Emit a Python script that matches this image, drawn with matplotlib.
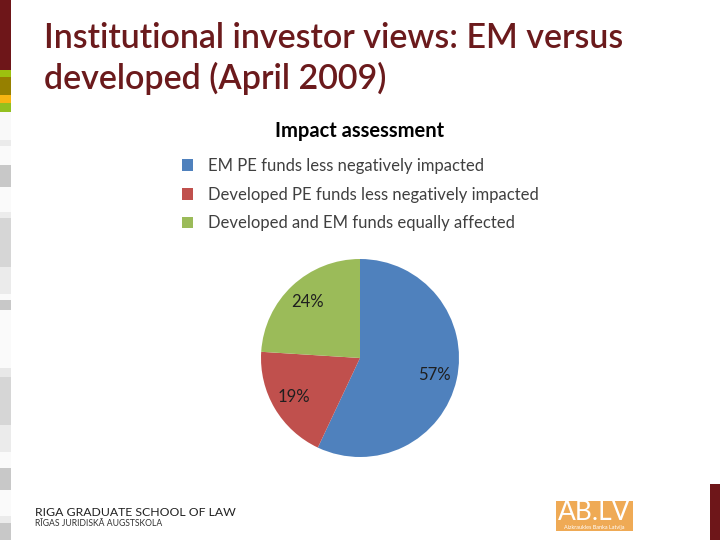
import matplotlib.pyplot as plt
from matplotlib.patches import Rectangle

# chart data
labels = ['EM PE funds less negatively impacted',
          'Developed PE funds less negatively impacted',
          'Developed and EM funds equally affected']
shares = [57, 19, 24]
colors = ['#4f81bd', '#c0504d', '#9bbb59']

slide_title = ['Institutional investor views: EM versus', 'developed (April 2009)']
chart_title = 'Impact assessment'

# decorative strip on the left edge: (top px, bottom px, colour)
strip = [(0, 70, '#6e1619'), (70, 77, '#9dc10f'), (77, 95, '#968000'),
         (95, 103, '#f7b512'), (103, 112, '#93c01f'), (112, 140, '#f9f9f9'),
         (140, 146, '#ebebeb'), (146, 165, '#fafafa'), (165, 187, '#c8c8c8'),
         (187, 212, '#fafafa'), (212, 218, '#ececec'), (218, 267, '#d6d6d6'),
         (267, 294, '#ebebeb'), (294, 300, '#fafafa'), (300, 310, '#c8c8c8'),
         (310, 368, '#fafafa'), (368, 377, '#e8e8e8'), (377, 425, '#d6d6d6'),
         (425, 452, '#ebebeb'), (452, 468, '#fafafa'), (468, 490, '#c8c8c8'),
         (490, 516, '#fafafa'), (516, 523, '#ebebeb'), (523, 540, '#c8c8c8')]

plt.rcParams['font.family'] = ['Lato', 'DejaVu Sans']

W, H = 720, 540
fig = plt.figure(figsize=(7.2, 5.4), dpi=100)
fig.patch.set_facecolor('white')

def px(x0, y0, x1, y1):
    return (x0 / W, 1 - y1 / H), (x1 - x0) / W, (y1 - y0) / H

for top, bot, c in strip:
    xy, w, h = px(0, top, 11, bot)
    fig.patches.append(Rectangle(xy, w, h, transform=fig.transFigure, color=c, lw=0))

xy, w, h = px(710, 484, 720, 540)
fig.patches.append(Rectangle(xy, w, h, transform=fig.transFigure, color='#6e1619', lw=0))

# slide title
for line, base in zip(slide_title, [48, 89]):
    fig.text(44 / W, 1 - base / H, line, ha='left', va='baseline', fontsize=24.5,
             fontweight='semibold', color='#6b1a1c')

# pie
ax = fig.add_axes([261 / W, 83 / H, 198 / W, 198 / H])
wedges, _, autotexts = ax.pie(shares, colors=colors, startangle=90, counterclock=False,
                              autopct='%d%%', pctdistance=0.77,
                              textprops={'fontsize': 12, 'color': '#1f1f1f'})
ax.set_xlim(-1, 1)
ax.set_ylim(-1, 1)
ax.set_aspect('equal')
ax.axis('off')

fig.text(360 / W, 1 - 131 / H, chart_title, ha='center', va='center',
         fontsize=14.5, fontweight='bold', color='black')

fig.legend(wedges, labels, loc='upper left', bbox_to_anchor=(182 / W, 1 - 158 / H),
           frameon=False, fontsize=12, handlelength=0.68, handleheight=0.68,
           handletextpad=0.85, labelspacing=0.76, borderaxespad=0, borderpad=0,
           labelcolor='#404040')

# footer
fig.text(35 / W, 1 - 512 / H, 'RIGA GRADUATE SCHOOL OF LAW', ha='left', va='center',
         fontsize=8.8, color='#222222')
fig.text(35 / W, 1 - 523.5 / H, 'RĪGAS JURIDISKĀ AUGSTSKOLA', ha='left', va='center',
         fontsize=6.2, color='#333333')

xy, w, h = px(556, 501, 633, 531)
fig.patches.append(Rectangle(xy, w, h, transform=fig.transFigure, color='#efaa55', lw=0))
fig.text(594 / W, 1 - 513 / H, 'AB.LV', ha='center', va='center', fontsize=19,
         color='white')
fig.text(594 / W, 1 - 527 / H, 'Aizkraukles Banka Latvija', ha='center', va='center',
         fontsize=4, color='white')

fig.savefig('out.png', dpi=100)
